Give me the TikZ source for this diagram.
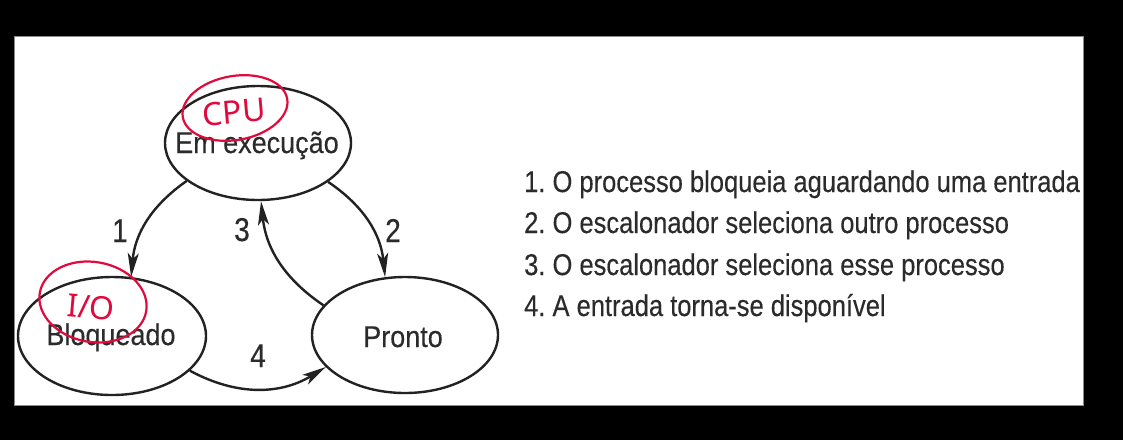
\documentclass[tikz,border=0pt]{standalone}
\usepackage{fontspec}
\setmainfont{Liberation Sans}
\newfontfamily\statefont[FakeStretch=0.9,FakeBold=0.3]{Liberation Sans}
\newfontfamily\listfont[FakeStretch=0.85,FakeBold=0.3]{Liberation Sans}
\newfontfamily\handfont{Noto Sans}
\usetikzlibrary{arrows.meta,shapes.geometric}
\definecolor{ink}{HTML}{222222}
\definecolor{txt}{HTML}{2B2B2B}
\definecolor{pen}{RGB}{225,10,60}
\definecolor{frame}{HTML}{8A8A8A}
\begin{document}
\frenchspacing
\begin{tikzpicture}[x=1pt,y=-1pt,
  state/.style={ellipse, draw=ink, line width=2.4pt, inner sep=0pt},
  statetext/.style={font=\statefont\fontsize{30}{36}\selectfont, text=txt, anchor=base, inner sep=0pt},
  num/.style={font=\listfont\fontsize{33}{38}\selectfont, text=txt, anchor=base, inner sep=0pt},
  item/.style={font=\listfont\fontsize{30}{36}\selectfont, text=txt, anchor=base west, inner sep=0pt},
  arr/.style={draw=ink, line width=2.4pt, -{Stealth[length=24pt,width=11pt,inset=6pt]}},
  penring/.style={ellipse, draw=pen, line width=2.2pt, inner sep=0pt},
  pentext/.style={font=\handfont\fontsize{32}{38}\selectfont, text=pen}]
\useasboundingbox (0,0) rectangle (1123,440);
\fill[black] (0,0) rectangle (1123,440);
\filldraw[fill=white, draw=frame, line width=1pt] (14,36) rectangle (1083,405);

% states
\node[state, minimum width=186pt, minimum height=114pt] (exec) at (258,143) {};
\node[state, minimum width=188pt, minimum height=118pt] (bloq) at (112,336) {};
\node[state, minimum width=186pt, minimum height=116pt] (pronto) at (405,335) {};
\node[statetext] (execT) at (257,153) {Em execução};
\node[statetext] (bloqT) at (111,345) {Bloqueado};
\node[statetext] (prontoT) at (403,347) {Pronto};

% transitions
\draw[arr] (exec.208) to[bend right=25] (bloq.72);
\draw[arr] (exec.331) to[bend left=25] (pronto.109);
\draw[arr] (pronto.160) to[bend left=25] (exec.273);
\draw[arr] (bloq.336) to[bend right=30] (pronto.202);

\node[num] (n1) at (120,242) {1};
\node[num] (n3) at (242,241) {3};
\node[num] (n2) at (393,242) {2};
\node[num] (n4) at (258,367) {4};

% legend
\node[item] (l1) at (524,192) {1. O processo bloqueia aguardando uma entrada};
\node[item] (l2) at (524,233) {2. O escalonador seleciona outro processo};
\node[item] (l3) at (524,275) {3. O escalonador seleciona esse processo};
\node[item] (l4) at (524,316) {4. A entrada torna-se disponível};

% handwritten annotations
\node[penring, minimum width=106pt, minimum height=64pt, rotate=10] (cpuRing) at (235,108) {};
\node[pentext, rotate=5] (cpuT) at (234,112) {CPU};
\node[penring, minimum width=108pt, minimum height=80pt, rotate=-10] (ioRing) at (93,302) {};
\node[pentext, rotate=-5] (ioT) at (91,307) {I/O};
\end{tikzpicture}
\end{document}
